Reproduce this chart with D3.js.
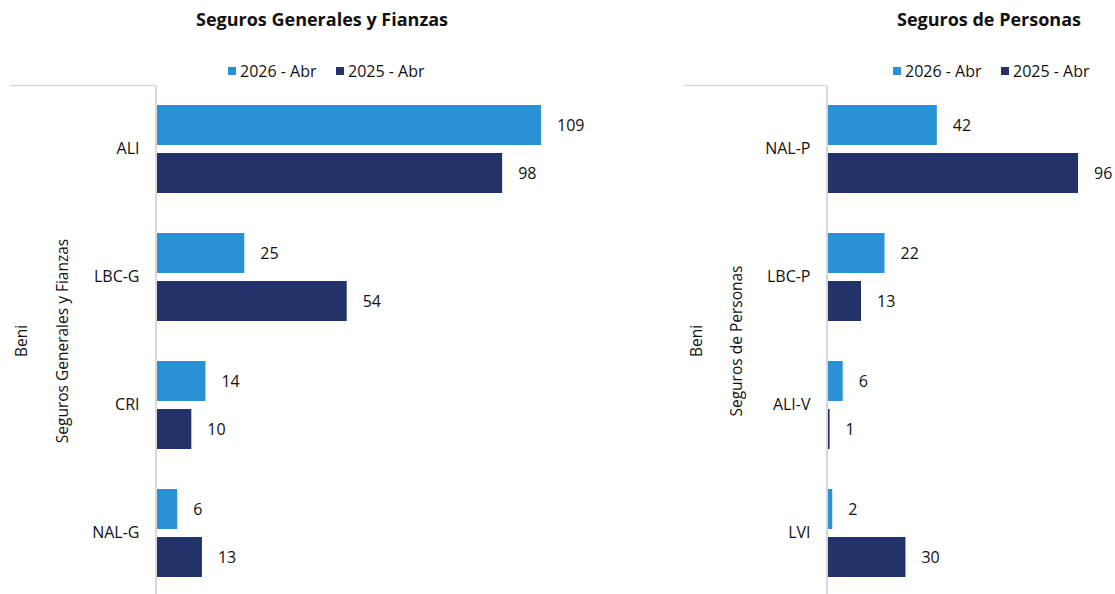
<!DOCTYPE html>
<html><head><meta charset="utf-8">
<script src="https://cdn.jsdelivr.net/npm/d3@7"></script>
<style>body{margin:0;background:#fff;} svg{display:block;font-family:"Open Sans", Lato, sans-serif;}</style>
</head><body>
<svg id="c" width="1115" height="594"></svg>
<script>
const seriesNames = ["2026 - Abr", "2025 - Abr"];
const seriesColors = ["#2B91D5", "#22336A"];
const catsGen = ["ALI", "LBC-G", "CRI", "NAL-G"];
const gen2026 = [109, 25, 14, 6];
const gen2025 = [98, 54, 10, 13];
const catsPer = ["NAL-P", "LBC-P", "ALI-V", "LVI"];
const per2026 = [42, 22, 6, 2];
const per2025 = [96, 13, 1, 30];
const groupLabel = "Beni";
const FS = 16;

const svg = d3.select("#c");

function panel(cfg) {
  const g = svg.append("g");
  const x = d3.scaleLinear().domain([0, cfg.xMax]).range([cfg.x0, cfg.x1]);
  const y = d3.scaleBand().domain(cfg.cats).range([85, 597]).paddingInner(0.3125).paddingOuter(0.15625);
  const ys = d3.scaleBand().domain([0, 1]).range([0, y.bandwidth()]).paddingInner(8 / 48);
  const rows = cfg.cats.map((c, i) => ({ c, vals: [cfg.s1[i], cfg.s2[i]] }));

  // title
  g.append("text").attr("x", cfg.titleX).attr("y", 26).attr("text-anchor", "middle")
    .attr("font-size", 18).attr("font-weight", "bold").attr("fill", "#111").text(cfg.title);

  // legend
  const lg = g.append("g").attr("transform", `translate(${cfg.legendX},0)`);
  let off = 0;
  seriesNames.forEach((n, i) => {
    lg.append("rect").attr("x", off).attr("y", 67).attr("width", 8).attr("height", 8).attr("fill", seriesColors[i]);
    lg.append("text").attr("x", off + 12).attr("y", 76.5).attr("font-size", FS).attr("fill", "#111").text(n);
    off += 108;
  });

  // top frame line
  g.append("line").attr("x1", cfg.frameX).attr("x2", cfg.x0 - 0.5).attr("y1", 85.5).attr("y2", 85.5)
    .attr("stroke", "#d9d9d9").attr("stroke-width", 1.5);

  // bars
  const grp = g.selectAll(".grp").data(rows).join("g").attr("transform", d => `translate(0,${y(d.c)})`);
  grp.selectAll("rect").data(d => d.vals.map((v, i) => ({ v, i }))).join("rect")
    .attr("x", x(0)).attr("y", d => ys(d.i)).attr("height", ys.bandwidth())
    .attr("width", d => x(d.v) - x(0)).attr("fill", d => seriesColors[d.i]);
  grp.selectAll("text").data(d => d.vals.map((v, i) => ({ v, i }))).join("text")
    .attr("x", d => x(d.v) + 16).attr("y", d => ys(d.i) + ys.bandwidth() / 2).attr("dy", "0.36em")
    .attr("font-size", FS).attr("fill", "#111").text(d => d.v);

  // category axis
  const ax = g.append("g").attr("transform", `translate(${cfg.x0 - 0.5},0)`)
    .call(d3.axisLeft(y).tickSize(0).tickPadding(16));
  ax.select(".domain").attr("stroke", "#d9d9d9").attr("stroke-width", 2);
  ax.selectAll("text").attr("font-size", FS).attr("fill", "#111").attr("font-family", "'Open Sans', sans-serif");

  // rotated group labels
  g.append("text").attr("transform", `translate(${cfg.rot1X},341) rotate(-90)`).attr("text-anchor", "middle")
    .attr("font-size", 15.5).attr("fill", "#111").text(cfg.title);
  g.append("text").attr("transform", `translate(${cfg.rot2X},341) rotate(-90)`).attr("text-anchor", "middle")
    .attr("font-size", 15.5).attr("fill", "#111").text(groupLabel);
}

panel({ title: "Seguros Generales y Fianzas", cats: catsGen, s1: gen2026, s2: gen2025,
  x0: 156, x1: 156 + 120 * 3.532, xMax: 120, titleX: 322, legendX: 228, frameX: 10, rot1X: 68, rot2X: 27 });
panel({ title: "Seguros de Personas", cats: catsPer, s1: per2026, s2: per2025,
  x0: 827, x1: 827 + 100 * 2.615, xMax: 100, titleX: 989, legendX: 893, frameX: 684, rot1X: 742, rot2X: 702 });
</script>
</body></html>
